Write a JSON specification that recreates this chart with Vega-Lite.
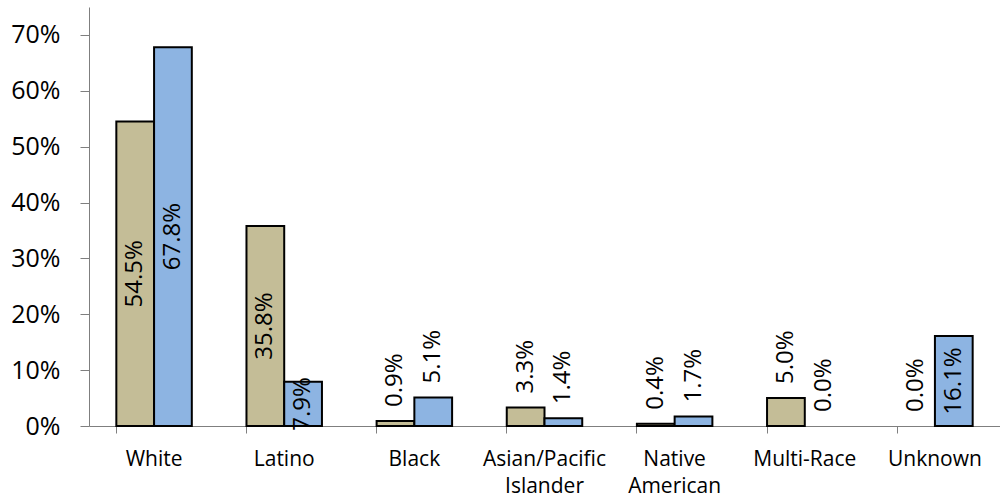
{
  "$schema": "https://vega.github.io/schema/vega-lite/v6.json",
  "autosize": "none",
  "padding": {"left": 89, "top": 7, "right": 0, "bottom": 70},
  "width": 911,
  "height": 419,
  "config": {"view": {"stroke": null}, "font": "Open Sans"},
  "data": {
    "values": [
      {"group": "White", "series": "Series 1", "value": 0.545},
      {"group": "White", "series": "Series 2", "value": 0.678},
      {"group": "Latino", "series": "Series 1", "value": 0.358},
      {"group": "Latino", "series": "Series 2", "value": 0.079},
      {"group": "Black", "series": "Series 1", "value": 0.009},
      {"group": "Black", "series": "Series 2", "value": 0.051},
      {"group": "Asian/Pacific Islander", "series": "Series 1", "value": 0.033},
      {"group": "Asian/Pacific Islander", "series": "Series 2", "value": 0.014},
      {"group": "Native American", "series": "Series 1", "value": 0.004},
      {"group": "Native American", "series": "Series 2", "value": 0.017},
      {"group": "Multi-Race", "series": "Series 1", "value": 0.05},
      {"group": "Multi-Race", "series": "Series 2", "value": 0.0},
      {"group": "Unknown", "series": "Series 1", "value": 0.0},
      {"group": "Unknown", "series": "Series 2", "value": 0.161}
    ]
  },
  "encoding": {
    "x": {
      "field": "group", "type": "nominal", "sort": null,
      "scale": {"paddingInner": 0.42, "paddingOuter": 0.21},
      "axis": {
        "title": null, "labelAngle": 0, "labelFontSize": 21, "labelColor": "#000000",
        "labelPadding": 15, "labelLineHeight": 27,
        "bandPosition": 0, "tickSize": 7, "tickColor": "#7f7f7f", "domainColor": "#7f7f7f",
        "labelExpr": "datum.label == 'Asian/Pacific Islander' ? ['Asian/Pacific', 'Islander'] : datum.label == 'Native American' ? ['Native', 'American'] : datum.label"
      }
    },
    "xOffset": {"field": "series", "type": "nominal", "scale": {"paddingInner": 0, "paddingOuter": 0}}
  },
  "layer": [
    {
      "transform": [{"filter": "datum.value > 0"}],
      "mark": {"type": "bar", "stroke": "#000000", "strokeWidth": 2},
      "encoding": {
        "y": {
          "field": "value", "type": "quantitative",
          "scale": {"domain": [0, 0.75], "nice": false},
          "axis": {
            "title": null, "format": ".0%", "values": [0, 0.1, 0.2, 0.3, 0.4, 0.5, 0.6, 0.7],
            "grid": false, "labelFontSize": 25, "labelColor": "#000000", "labelPadding": 20,
            "tickSize": 9, "tickColor": "#7f7f7f", "domainColor": "#7f7f7f"
          }
        },
        "color": {
          "field": "series", "type": "nominal", "legend": null,
          "scale": {"domain": ["Series 1", "Series 2"], "range": ["#C4BD97", "#8DB4E2"]}
        }
      }
    },
    {
      "transform": [
        {"filter": "datum.value > 0.06"},
        {"calculate": "datum.value / 2", "as": "mid"}
      ],
      "mark": {"type": "text", "angle": 270, "align": "center", "baseline": "middle", "fontSize": 24, "color": "#000000"},
      "encoding": {
        "y": {"field": "mid", "type": "quantitative"},
        "text": {"field": "value", "type": "quantitative", "format": ".1%"}
      }
    },
    {
      "transform": [{"filter": "datum.value <= 0.06"}],
      "mark": {"type": "text", "angle": 270, "align": "left", "baseline": "middle", "fontSize": 24, "dx": 14, "color": "#000000"},
      "encoding": {
        "y": {"field": "value", "type": "quantitative"},
        "text": {"field": "value", "type": "quantitative", "format": ".1%"}
      }
    }
  ]
}
